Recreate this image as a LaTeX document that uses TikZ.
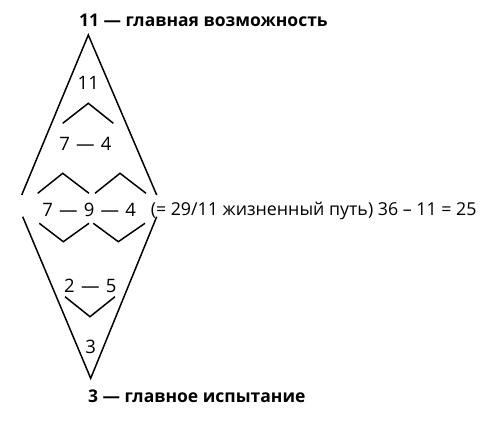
\documentclass[tikz,border=0pt]{standalone}
\usepackage{fontspec}
\setmainfont{Open Sans}
\newfontfamily\widefont[WordSpace=1.3]{Open Sans}
\begin{document}
\begin{tikzpicture}[x=1pt,y=-1pt,line width=1.5pt,
    num/.style={inner sep=0pt,font=\widefont\fontsize{18.5}{22}\selectfont},
    note/.style={inner sep=0pt,font=\fontsize{17.8}{22}\selectfont},
    heading/.style={inner sep=0pt,font=\fontsize{17.5}{22}\selectfont\bfseries}]
                \useasboundingbox (0,0) rectangle (495,425);
                %% outer diamond
                \draw (21.7,195) -- (88.3,35) -- (156.7,195);
                \draw (22.7,216.7) -- (90.7,378.3) -- (156.7,216.7);
                %% chevrons
                \draw (62.7,123.3) -- (88.3,103.3) -- (113.3,123.3);
                \draw (37.7,193.3) -- (62.7,173.3) -- (89,193.3);
                \draw (95,193.3) -- (120,173.3) -- (146,193.3);
                \draw (39.3,223.3) -- (63.3,241.7) -- (89,223.3);
                \draw (93.3,223.3) -- (118.3,241.7) -- (145,223.3);
                \draw (65,296.7) -- (90,316.7) -- (115,296.7);
                %% numbers
                \node[num,anchor=base] (top) at (88.3,89.3) {11};
                \node[num,anchor=base] (upper) at (85.5,150.7) {7 — 4};
                \node[num,anchor=base] (middle) at (89.2,216) {7 — 9 — 4};
                \node[note,anchor=base west] (path) at (150,215) {(= 29/11 жизненный путь) 36 – 11 = 25};
                \node[num,anchor=base] (lower) at (90.3,292.7) {2 — 5};
                \node[num,anchor=base] (bottom) at (90.7,353.3) {3};
                %% labels
                \node[heading,anchor=base west] (chance) at (78.3,26.7) {11 — главная возможность};
                \node[heading,anchor=base west] (trial) at (87.3,402.3) {3 — главное испытание};
            \end{tikzpicture}
\end{document}
